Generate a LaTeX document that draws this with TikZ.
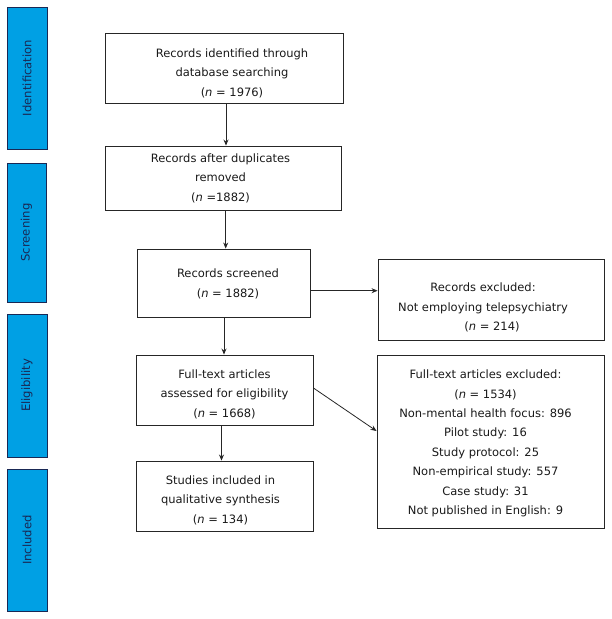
\documentclass[tikz,border=0pt]{standalone}
\usepackage{fontspec}
\setmainfont{DejaVu Sans}
\usepackage{tikz}
\usetikzlibrary{arrows.meta,fit}
\definecolor{barblue}{RGB}{0,160,228}
\definecolor{bartext}{RGB}{25,40,85}
\tikzstyle{box} = [draw=black!85, line width=0.9pt, inner sep=0pt]
\tikzstyle{txt} = [align=center, inner sep=0pt, font={\fontsize{11.5}{19.4}\selectfont}, text=black!90]
\tikzstyle{phase} = [draw=bartext, line width=0.9pt, fill=barblue, inner sep=0pt]
\tikzstyle{phasetext} = [rotate=90, text=bartext, font={\fontsize{11.6}{13}\selectfont}]
\tikzstyle{flow} = [-{Stealth[length=6pt,width=5pt]}, line width=0.8pt, black!85]

\begin{document}
\begin{tikzpicture}[x=1pt,y=-1pt]
    \useasboundingbox (0,0) rectangle (611,619);
    % phases on the left
    \node[phase,fit={(7,7)(47,149)}](ident){};
    \node[phase,fit={(7,163)(46,302)}](screen){};
    \node[phase,fit={(7,314)(47,457)}](elig){};
    \node[phase,fit={(7,469)(47,611)}](incl){};
    \node[phasetext](identtxt) at (ident){Identification};
    \node[phasetext](screentxt) at (screen){Screening};
    \node[phasetext](eligtxt) at (elig){Eligibility};
    \node[phasetext](incltxt) at (incl){Included};
    % main flow
    \node[box,fit={(105,33)(343,103)}](found){};
    \node[box,fit={(105,146)(341,210)}](dedup){};
    \node[box,fit={(137,249)(310,317)}](screened){};
    \node[box,fit={(136,355)(313,425)}](fulltext){};
    \node[box,fit={(136,461)(313,531)}](studies){};
    \node[txt](foundtxt) at (232,73){Records identified through\\database searching\\(\textit{n} = 1976)};
    \node[txt](deduptxt) at (220.5,178){Records after duplicates\\removed\\(\textit{n} =1882)};
    \node[txt](screenedtxt) at (228,284){Records screened\\(\textit{n} = 1882)};
    \node[txt](fulltexttxt) at (224.5,394){Full-text articles\\assessed for eligibility\\(\textit{n} = 1668)};
    \node[txt](studiestxt) at (220.5,500){Studies included in\\qualitative synthesis\\(\textit{n} = 134)};
    % exclusions
    \node[box,fit={(378,259)(604,340)}](recexcl){};
    \node[box,fit={(377,355)(604,528)}](ftexcl){};
    \node[txt](recexcltxt) at (483,307.5){Records excluded:\\Not employing telepsychiatry\\\hspace*{18pt}(\textit{n} = 214)};
    \node[txt](ftexcltxt) at (485.5,443.5){Full-text articles excluded:\\(\textit{n} = 1534)\\Non-mental health focus: 896\\Pilot study: 16\\Study protocol: 25\\Non-empirical study: 557\\Case study: 31\\Not published in English: 9};
    \draw[flow]([xshift=2pt]found.south)--([xshift=2pt]found.south |- dedup.north);
    \draw[flow]([xshift=2.7pt]dedup.south)--([xshift=2.7pt]dedup.south |- screened.north);
    \draw[flow]([xshift=0.5pt]screened.south)--([xshift=0.5pt]screened.south |- fulltext.north);
    \draw[flow]([xshift=-3pt]fulltext.south)--([xshift=-3pt]fulltext.south |- studies.north);
    \draw[flow]([yshift=-7.7pt]screened.east)--([yshift=-7.7pt]screened.east -| recexcl.west);
    \draw[flow]([yshift=2pt]fulltext.east)--([yshift=10.5pt]ftexcl.west);
  \end{tikzpicture}
\end{document}
